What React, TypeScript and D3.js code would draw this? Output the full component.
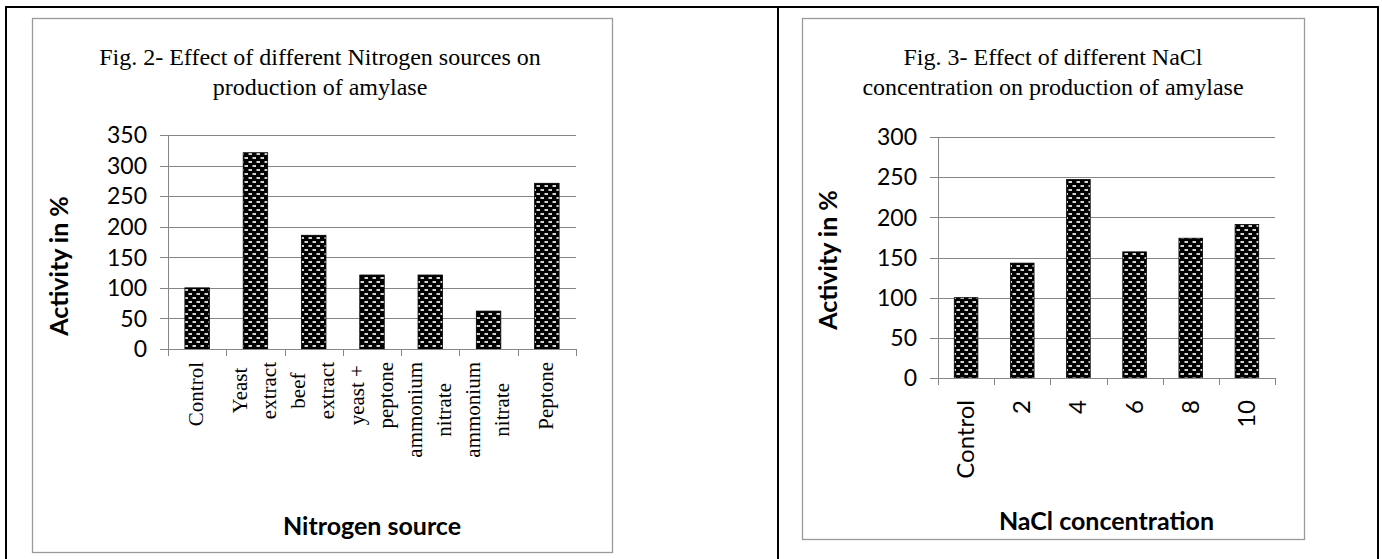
import React, { useEffect, useRef } from "react";
import * as d3 from "d3";

// Fig. 2 — nitrogen sources
const nitrogenSources = [
  "Control",
  "Yeast\nextract",
  "beef\nextract",
  "yeast +\npeptone",
  "ammonium\nnitrate",
  "ammonium\nnitrate",
  "Peptone",
];
const nitrogenActivity = [100, 321, 186, 121, 121, 62, 271];
const nitrogenTicks = [0, 50, 100, 150, 200, 250, 300, 350];
const nitrogenTitle = ["Fig. 2- Effect of different Nitrogen sources on", "production of amylase"];

// Fig. 3 — NaCl concentration
const naclLevels = ["Control", "2", "4", "6", "8", "10"];
const naclActivity = [100, 143, 247, 157, 174, 191];
const naclTicks = [0, 50, 100, 150, 200, 250, 300];
const naclTitle = ["Fig. 3- Effect of different NaCl", "concentration on production of amylase"];

const W = 1382;
const H = 559;
const SANS = "Lato, Calibri, 'Noto Sans', sans-serif";
const SERIF = "'Liberation Serif', 'Times New Roman', serif";
const GRID = "#868686";

type Panel = {
  labels: string[];
  values: number[];
  ticks: number[];
  title: string[];
  xTitle: string;
  box: { x: number; y: number; w: number; h: number };
  plot: { x0: number; x1: number; top: number; bottom: number };
  titleCx: number;
  yTitle: { x: number; cy: number };
  xLabel: { top: number; font: string; size: number; lineGap: number; shift: number };
  xTitleY: number;
};

const panels: Panel[] = [
  {
    labels: nitrogenSources,
    values: nitrogenActivity,
    ticks: nitrogenTicks,
    title: nitrogenTitle,
    xTitle: "Nitrogen source",
    box: { x: 32, y: 18, w: 580, h: 534 },
    plot: { x0: 168, x1: 576, top: 135, bottom: 349 },
    titleCx: 320,
    yTitle: { x: 68, cy: 266 },
    xLabel: { top: 362, font: SERIF, size: 21, lineGap: 29, shift: 6 },
    xTitleY: 535,
  },
  {
    labels: naclLevels,
    values: naclActivity,
    ticks: naclTicks,
    title: naclTitle,
    xTitle: "NaCl concentration",
    box: { x: 802, y: 18, w: 502, h: 521 },
    plot: { x0: 938, x1: 1275, top: 137, bottom: 378 },
    titleCx: 1053,
    yTitle: { x: 837, cy: 260 },
    xLabel: { top: 400, font: SANS, size: 24, lineGap: 28, shift: 8 },
    xTitleY: 530,
  },
];

function drawPanel(svg: d3.Selection<SVGSVGElement, unknown, null, undefined>, p: Panel) {
  const g = svg.append("g");

  // chart frame
  g.append("rect")
    .attr("x", p.box.x + 0.5)
    .attr("y", p.box.y + 0.5)
    .attr("width", p.box.w)
    .attr("height", p.box.h)
    .attr("fill", "#fff")
    .attr("stroke", "#9a9a9a")
    .attr("stroke-width", 1.3);

  // title
  p.title.forEach((line, i) => {
    g.append("text")
      .attr("x", p.titleCx)
      .attr("y", 65 + i * 30)
      .attr("text-anchor", "middle")
      .attr("font-family", SERIF)
      .attr("font-size", 24)
      .attr("fill", "#000")
      .text(line);
  });

  const yMax = p.ticks[p.ticks.length - 1];
  const y = d3.scaleLinear().domain([0, yMax]).range([p.plot.bottom, p.plot.top]);
  const idx = p.labels.map((_, i) => i);
  const x = d3
    .scaleBand<number>()
    .domain(idx)
    .range([p.plot.x0, p.plot.x1])
    .paddingInner(0.58)
    .paddingOuter(0.29);
  const step = x.step();

  // gridlines with outer tick marks
  g.append("g")
    .selectAll("line")
    .data(p.ticks)
    .join("line")
    .attr("x1", p.plot.x0 - 8)
    .attr("x2", p.plot.x1)
    .attr("y1", (d) => Math.round(y(d)) + 0.5)
    .attr("y2", (d) => Math.round(y(d)) + 0.5)
    .attr("stroke", GRID)
    .attr("stroke-width", 1);

  // y tick labels
  g.append("g")
    .selectAll("text")
    .data(p.ticks)
    .join("text")
    .attr("x", p.plot.x0 - 21)
    .attr("y", (d) => y(d))
    .attr("dy", "0.36em")
    .attr("text-anchor", "end")
    .attr("font-family", SANS)
    .attr("font-size", 23)
    .attr("fill", "#000")
    .text((d) => String(d));

  // bars
  g.append("g")
    .selectAll("rect")
    .data(p.values)
    .join("rect")
    .attr("x", (_, i) => x(i)!)
    .attr("y", (d) => y(d))
    .attr("width", x.bandwidth())
    .attr("height", (d) => y(0) - y(d))
    .attr("fill", "url(#dotgrid)")
    .attr("stroke", "#000")
    .attr("stroke-width", 0.8);

  // axes
  g.append("line")
    .attr("x1", p.plot.x0 + 0.5)
    .attr("x2", p.plot.x0 + 0.5)
    .attr("y1", p.plot.top)
    .attr("y2", p.plot.bottom)
    .attr("stroke", GRID);
  g.append("line")
    .attr("x1", p.plot.x0)
    .attr("x2", p.plot.x1)
    .attr("y1", Math.round(p.plot.bottom) + 0.5)
    .attr("y2", Math.round(p.plot.bottom) + 0.5)
    .attr("stroke", GRID);
  g.append("g")
    .selectAll("line")
    .data(d3.range(p.labels.length + 1))
    .join("line")
    .attr("x1", (i) => Math.round(p.plot.x0 + i * step) + 0.5)
    .attr("x2", (i) => Math.round(p.plot.x0 + i * step) + 0.5)
    .attr("y1", p.plot.bottom)
    .attr("y2", p.plot.bottom + 7)
    .attr("stroke", GRID);

  // rotated category labels, lines centred on the longest one
  p.labels.forEach((label, i) => {
    const lines = label.split("\n");
    const cx = x(i)! + x.bandwidth() / 2;
    const lg = g.append("g");
    const texts = lines.map((line) =>
      lg
        .append("text")
        .attr("font-family", p.xLabel.font)
        .attr("font-size", p.xLabel.size)
        .attr("fill", "#000")
        .attr("text-anchor", "middle")
        .text(line)
    );
    const maxLen = d3.max(texts, (t) => (t.node() as SVGTextElement).getComputedTextLength()) || 0;
    const cy = p.xLabel.top + maxLen / 2;
    texts.forEach((t, j) => {
      const off = (j - (lines.length - 1) / 2) * p.xLabel.lineGap;
      const bx = cx + off + p.xLabel.shift;
      t.attr("transform", `translate(${bx},${cy}) rotate(-90)`);
    });
  });

  // axis titles
  g.append("text")
    .attr("transform", `translate(${p.yTitle.x},${p.yTitle.cy}) rotate(-90)`)
    .attr("text-anchor", "middle")
    .attr("font-family", SANS)
    .attr("font-weight", 700)
    .attr("font-size", 25)
    .attr("fill", "#000")
    .text("Activity in %");

  g.append("text")
    .attr("x", (p.plot.x0 + p.plot.x1) / 2)
    .attr("y", p.xTitleY)
    .attr("text-anchor", "middle")
    .attr("font-family", SANS)
    .attr("font-weight", 700)
    .attr("font-size", 25)
    .attr("fill", "#000")
    .text(p.xTitle);
}

export default function App() {
  const ref = useRef<SVGSVGElement | null>(null);

  useEffect(() => {
    const svg = d3.select(ref.current!);
    svg.selectAll("*").remove();

    const defs = svg.append("defs");
    const pat = defs
      .append("pattern")
      .attr("id", "dotgrid")
      .attr("patternUnits", "userSpaceOnUse")
      .attr("width", 8)
      .attr("height", 8);
    pat.append("rect").attr("width", 8).attr("height", 8).attr("fill", "#000");
    pat.append("rect").attr("x", 0.5).attr("y", 1).attr("width", 3.5).attr("height", 2).attr("fill", "#d4d4d4");
    pat.append("rect").attr("x", 4.5).attr("y", 5).attr("width", 3.5).attr("height", 2).attr("fill", "#d4d4d4");

    svg.append("rect").attr("width", W).attr("height", H).attr("fill", "#fff");

    // table rules around the two figures
    const rules = svg.append("g").attr("stroke", "#000").attr("stroke-width", 2);
    rules.append("line").attr("x1", 5).attr("x2", 1379).attr("y1", 7).attr("y2", 7);
    rules.append("line").attr("x1", 6).attr("x2", 6).attr("y1", 6).attr("y2", H);
    rules.append("line").attr("x1", 778).attr("x2", 778).attr("y1", 6).attr("y2", H);
    rules.append("line").attr("x1", 1378).attr("x2", 1378).attr("y1", 6).attr("y2", H);

    panels.forEach((p) => drawPanel(svg, p));
  }, []);

  return (
    <div style={{ position: "absolute", left: 0, top: 0, width: W, height: H }}>
      <svg ref={ref} width={W} height={H} style={{ display: "block" }} />
    </div>
  );
}
